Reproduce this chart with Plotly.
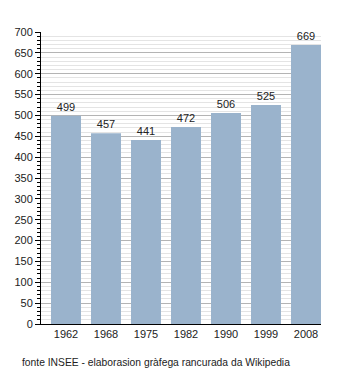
import plotly.graph_objects as go

years = ["1962", "1968", "1975", "1982", "1990", "1999", "2008"]
population = [499, 457, 441, 472, 506, 525, 669]
source_note = "fonte INSEE - elaborasion gràfega rancurada da Wikipedia"

W, H = 350, 373
ml, mr, mt, mb = 41, 29, 32, 49
pw, ph = W - ml - mr, H - mt - mb
bw = 0.75

fig = go.Figure(go.Bar(
    x=years, y=population, width=bw,
    marker=dict(color="#9ab3cc", line=dict(width=0)),
    text=[str(v) for v in population], textposition="outside",
    textfont=dict(family="Liberation Sans, Arial", size=11, color="#222"),
    cliponaxis=False,
))

fig.update_layout(
    width=W, height=H,
    margin=dict(l=ml, r=mr, t=mt, b=mb),
    paper_bgcolor="white", plot_bgcolor="white",
    showlegend=False,
    font=dict(family="Liberation Sans, Arial", size=11, color="#222"),
)
fig.update_xaxes(
    range=[-bw / 2 - (1 - bw), len(years) - 1 + bw / 2],
    showline=True, linecolor="black", linewidth=1,
    ticks="", showgrid=False,
    tickfont=dict(size=11),
)
fig.update_yaxes(
    range=[0, 700], dtick=50, tick0=0,
    showline=True, linecolor="black", linewidth=1,
    ticks="outside", ticklen=5, tickcolor="black",
    showgrid=True, gridcolor="#b4b4b4", gridwidth=1,
    minor=dict(dtick=10, showgrid=True, gridcolor="#e4e4e4", ticks="outside", ticklen=3, tickcolor="black"),
    zeroline=False,
    tickfont=dict(size=11),
)
fig.add_annotation(
    text=source_note, xref="paper", yref="paper",
    x=(20 - ml) / pw, y=-(362 - (H - mb)) / ph,
    xanchor="left", yanchor="middle", showarrow=False,
    font=dict(size=10.3, color="#222"),
)
fig.write_html("out.html")
